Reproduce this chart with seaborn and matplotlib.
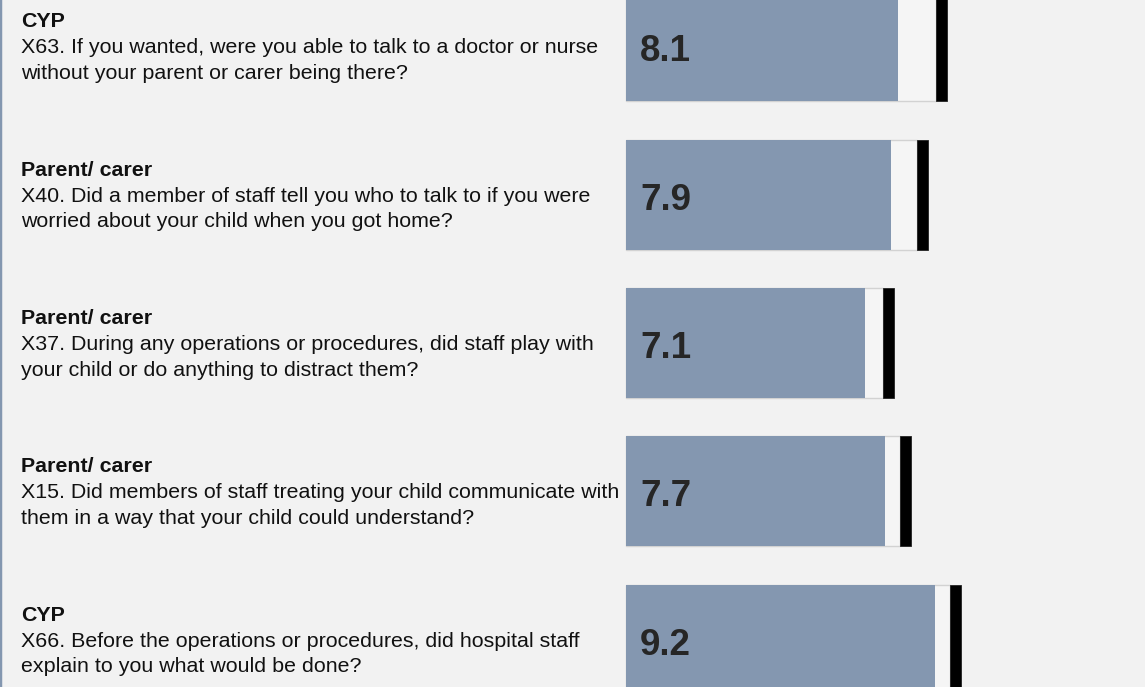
import matplotlib
matplotlib.use("Agg")
import matplotlib.pyplot as plt
import seaborn as sns
import pandas as pd
import numpy as np
from matplotlib.transforms import blended_transform_factory

# ---------------- data ----------------
question_ids = ["X63", "X40", "X37", "X15", "X66"]
respondents = ["CYP", "Parent/ carer", "Parent/ carer", "Parent/ carer", "CYP"]
question_line1 = [
    "X63. If you wanted, were you able to talk to a doctor or nurse",
    "X40. Did a member of staff tell you who to talk to if you were",
    "X37. During any operations or procedures, did staff play with",
    "X15. Did members of staff treating your child communicate with",
    "X66. Before the operations or procedures, did hospital staff",
]
question_line2 = [
    "without your parent or carer being there?",
    "worried about your child when you got home?",
    "your child or do anything to distract them?",
    "them in a way that your child could understand?",
    "explain to you what would be done?",
]
scores = [8.1, 7.9, 7.1, 7.7, 9.2]
band_upper = [9.23, 8.66, 7.65, 8.15, 9.64]

# ---------------- style / layout ----------------
sns.set_style("white")
plt.rcParams["font.family"] = ["Liberation Sans", "DejaVu Sans"]

BG = "#f2f2f2"
BAR = "#8497b0"
W, H = 1145, 687
x0_px, ppu = 626.0, 33.6          # pixel of value 0, pixels per unit
c0_px, row_px = 46.3, 148.4       # centre of first row, row pitch (px)
bar_h = 110.0 / row_px
marker_w = 0.32

fig = plt.figure(figsize=(W / 100, H / 100), dpi=100, facecolor=BG)
ax = fig.add_axes([0, 0, 1, 1])
ax.set_facecolor(BG)

df = pd.DataFrame({"qid": question_ids, "score": scores, "band": band_upper})

sns.barplot(data=df, x="band", y="qid", orient="h", color="#f5f5f5",
            edgecolor="#d2d2d2", linewidth=1.0, width=bar_h, saturation=1,
            errorbar=None, ax=ax, zorder=1)
sns.barplot(data=df, x="score", y="qid", orient="h", color=BAR,
            linewidth=0, width=bar_h, saturation=1, errorbar=None,
            ax=ax, zorder=2)
n = len(scores)
ax.barh(np.arange(n), [marker_w] * n, left=band_upper, height=bar_h,
        color="black", edgecolor="#222222", linewidth=0.6, zorder=3)

ax.set_xlim(-x0_px / ppu, (W - x0_px) / ppu)
ax.set_ylim((H - c0_px) / row_px, -c0_px / row_px)

# value labels
for i, s in enumerate(scores):
    ax.text(0.42, i + 15 / row_px, f"{s:.1f}", fontsize=26.5,
            fontweight="bold", color="#262626", ha="left", va="baseline",
            zorder=4)

# question text
tr = blended_transform_factory(ax.transAxes, ax.transData)
tx = 21 / W
for i in range(n):
    ax.text(tx, i - 19 / row_px, respondents[i], transform=tr,
            fontsize=15.4, fontweight="bold", color="#111111",
            ha="left", va="baseline")
    ax.text(tx, i + 7 / row_px, question_line1[i], transform=tr,
            fontsize=15.4, color="#111111", ha="left", va="baseline")
    ax.text(tx, i + 32.5 / row_px, question_line2[i], transform=tr,
            fontsize=15.4, color="#111111", ha="left", va="baseline")

ax.set_xticks([])
ax.set_yticks([])
ax.set_xlabel("")
ax.set_ylabel("")
for side in ["top", "right", "bottom"]:
    ax.spines[side].set_visible(False)
ax.spines["left"].set_color(BAR)
ax.spines["left"].set_linewidth(2.5)

fig.savefig("out.png", dpi=100, facecolor=BG)
